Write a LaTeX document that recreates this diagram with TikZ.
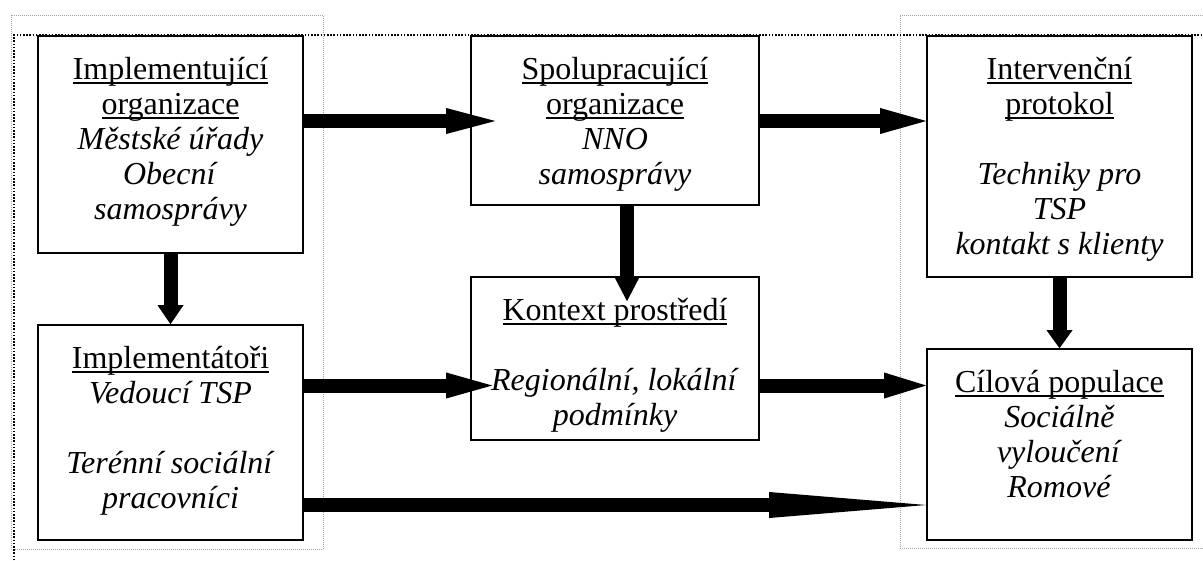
\documentclass[tikz,border=0pt]{standalone}
\usepackage{fontspec}
\setmainfont{Liberation Serif}
\usetikzlibrary{arrows.meta}
\newcommand\myul[1]{\setbox0\hbox{#1}\rlap{\rule[-4.5pt]{\wd0}{1.8pt}}\box0}
\tikzset{
  box/.style={draw, line width=1.6pt, fill=white, inner sep=0pt},
  boxtext/.style={anchor=north, inner sep=0pt, align=center, yshift=-19.5pt,
    font=\fontsize{32}{35}\selectfont},
  bigarrow/.style={line width=14pt, -{Triangle[length=#1, width=26pt, line width=0pt]}},
  graydot/.style={draw=gray!70, line width=0.9pt, dash pattern=on 1pt off 1pt},
  blackdot/.style={draw=black, line width=1.6pt, dash pattern=on 1.6pt off 1.6pt}
}
\begin{document}
\begin{tikzpicture}[x=1pt, y=-1pt]
\useasboundingbox (0,0) rectangle (1203,560);
% dotted frames
\draw[graydot] (11,15) rectangle (323,549);
\draw[graydot] (1215,548) -- (900,548) -- (900,15) -- (1215,15);
\draw[blackdot] (14,570) -- (14,35) -- (1215,35);
% boxes
\node[box, minimum width=265pt, minimum height=217pt] (b1) at (170.5,144.5) {};
\node[box, minimum width=265pt, minimum height=215pt] (b2) at (170.5,432.5) {};
\node[box, minimum width=288pt, minimum height=169pt] (b3) at (615,120.5) {};
\node[box, minimum width=288pt, minimum height=163pt] (b4) at (615,358.5) {};
\node[box, minimum width=265pt, minimum height=241pt] (b5) at (1059.5,156.5) {};
\node[box, minimum width=265pt, minimum height=191pt] (b6) at (1059.5,444.5) {};
% texts
\node[boxtext] (t1) at (b1.north) {\strut\myul{Implementující}\\ \myul{organizace}\\ \textit{Městské úřady}\\ \textit{Obecní}\\ \textit{samosprávy}};
\node[boxtext] (t2) at (b2.north) {\strut\myul{Implementátoři}\\ \textit{Vedoucí TSP}\\ \strut\\ \textit{Terénní sociální}\\ \textit{pracovníci}};
\node[boxtext] (t3) at (b3.north) {\strut\myul{Spolupracující}\\ \myul{organizace}\\ \textit{NNO}\\ \textit{samosprávy}};
\node[boxtext] (t4) at (b4.north) {\strut\myul{Kontext prostředí}\\ \strut\\ \textit{Regionální, lokální}\\ \textit{podmínky}};
\node[boxtext] (t5) at (b5.north) {\strut\myul{Intervenční}\\ \myul{protokol}\\ \strut\\ \textit{Techniky pro}\\ \textit{TSP}\\ \textit{kontakt s klienty}};
\node[boxtext] (t6) at (b6.north) {\strut\myul{Cílová populace}\\ \textit{Sociálně}\\ \textit{vyloučení}\\ \textit{Romové}};
% arrows
\draw[bigarrow=49pt] (b1.east |- 0,121) -- ([xshift=25pt]b3.west |- 0,121);
\draw[bigarrow=46pt] (b3.east |- 0,121) -- (b5.west |- 0,121);
\draw[bigarrow=19pt] (b1.south) -- (b2.north);
\draw[bigarrow=25pt] ([xshift=12pt]b3.south) -- ([xshift=12pt,yshift=-25pt]b4.north);
\draw[bigarrow=18pt] (b5.south) -- (b6.north);
\draw[bigarrow=46pt] (b2.east |- 0,385.5) -- ([xshift=22pt]b4.west |- 0,385.5);
\draw[bigarrow=42pt] (b4.east |- 0,385.5) -- (b6.west |- 0,385.5);
\draw[bigarrow=157pt] (b2.east |- 0,505) -- (b6.west |- 0,505);
\end{tikzpicture}
\end{document}
